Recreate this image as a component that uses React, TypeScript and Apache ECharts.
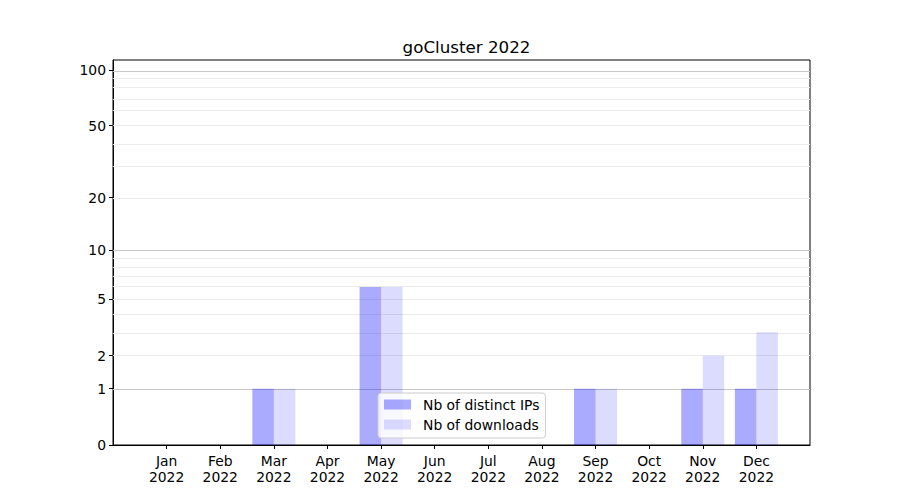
import React, { useEffect, useRef } from "react";
import * as echarts from "echarts";

const months = ["Jan", "Feb", "Mar", "Apr", "May", "Jun", "Jul", "Aug", "Sep", "Oct", "Nov", "Dec"];
const year = "2022";
const distinctIPs = [0, 0, 1, 0, 6, 0, 0, 0, 1, 0, 1, 1];
const downloads = [0, 0, 1, 0, 6, 0, 0, 0, 1, 0, 2, 3];
const yTicks = [0, 1, 2, 5, 10, 20, 50, 100];
const majorGrid = [1, 10, 100];
const minorGrid = [2, 3, 4, 5, 6, 7, 8, 9, 20, 30, 40, 50, 60, 70, 80, 90];
const yMaxValue = 113.3;

const tf = (v: number) => Math.log10(1 + v);
const inv = (t: number) => Math.pow(10, t) - 1;

const FONT = "DejaVu Sans";
const FS = 13.9;

export default function App() {
  const ref = useRef<HTMLDivElement>(null);
  useEffect(() => {
    if (!ref.current) return;
    const chart = echarts.init(ref.current, null, { renderer: "svg" });
    const cats = ["", ...months.map((m) => m + "\n" + year), ""];
    const pad = (arr: number[]) => ["-", ...arr.map((v) => tf(v)), "-"];
    const gridData = [
      ...minorGrid.map((v) => ({ yAxis: tf(v), lineStyle: { color: "#ebebeb", width: 1, type: "solid" } })),
      ...majorGrid.map((v) => ({ yAxis: tf(v), lineStyle: { color: "#c8c8c8", width: 1, type: "solid" } })),
    ];
    chart.setOption({
      animation: false,
      textStyle: { fontFamily: FONT },
      title: {
        text: "goCluster 2022",
        left: 461.5,
        textAlign: "center",
        top: 33,
        textStyle: { fontFamily: FONT, fontSize: 16.7, fontWeight: "normal", color: "#000" },
      },
      grid: {
        left: 113,
        right: 90,
        top: 60,
        bottom: 55,
        show: true,
        borderColor: "#000",
        borderWidth: 1,
        containLabel: false,
      },
      legend: {
        data: ["Nb of distinct IPs", "Nb of downloads"],
        orient: "vertical",
        left: 378,
        top: 393,
        padding: [4, 6, 6, 6],
        itemGap: 5,
        itemWidth: 27,
        itemHeight: 10,
        backgroundColor: "rgba(255,255,255,0.8)",
        borderColor: "#cccccc",
        borderWidth: 1,
        borderRadius: 3,
        icon: "rect",
        textStyle: { fontFamily: FONT, fontSize: FS, color: "#000", lineHeight: 15, padding: [0, 0, 0, 7] },
      },
      xAxis: {
        type: "category",
        data: cats,
        boundaryGap: false,
        axisLine: { show: true, lineStyle: { color: "#000", width: 1 } },
        axisTick: {
          show: true,
          interval: (index: number) => index > 0 && index < cats.length - 1,
          length: 4,
          lineStyle: { color: "#000" },
        },
        axisLabel: {
          interval: 0,
          margin: 8,
          fontFamily: FONT,
          fontSize: FS,
          lineHeight: 16,
          color: "#000",
        },
        splitLine: { show: false },
      },
      yAxis: {
        type: "value",
        min: 0,
        max: tf(yMaxValue),
        axisLine: { show: true, lineStyle: { color: "#000", width: 1 } },
        axisTick: { show: true, length: 4, customValues: yTicks.map(tf), lineStyle: { color: "#000" } },
        axisLabel: {
          customValues: yTicks.map(tf),
          margin: 7,
          fontFamily: FONT,
          fontSize: FS,
          color: "#000",
          formatter: (v: number) => String(Math.round(inv(v))),
        },
        splitLine: { show: false },
      },
      series: [
        {
          type: "line",
          name: "grid",
          data: [],
          z: 1,
          silent: true,
          markLine: {
            silent: true,
            symbol: ["none", "none"],
            label: { show: false },
            z: 1,
            data: gridData,
          },
        },
        {
          type: "bar",
          name: "Nb of distinct IPs",
          data: pad(distinctIPs),
          barWidth: 21.5,
          barGap: "0%",
          z: 3,
          itemStyle: { color: "rgba(0,0,255,0.333)" },
        },
        {
          type: "bar",
          name: "Nb of downloads",
          data: pad(downloads),
          barWidth: 21.5,
          barGap: "0%",
          z: 3,
          itemStyle: { color: "rgba(0,0,255,0.137)" },
        },
      ],
    });
    return () => chart.dispose();
  }, []);
  return <div ref={ref} style={{ width: 900, height: 500, margin: -8 }} />;
}
